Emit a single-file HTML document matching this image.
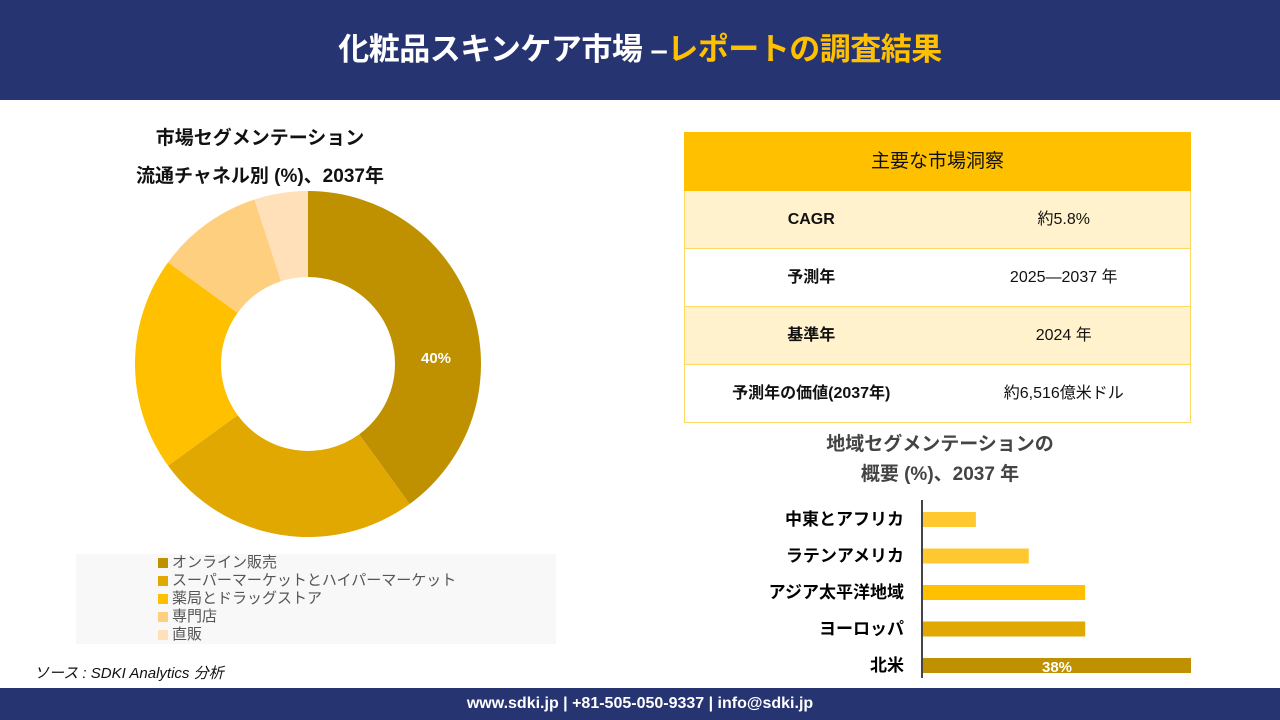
<!DOCTYPE html>
<html><head><meta charset="utf-8">
<style>
*{margin:0;padding:0;box-sizing:border-box}
body{width:1280px;height:720px;position:relative;background:#fff;font-family:"Liberation Sans","Noto Sans CJK JP",sans-serif;overflow:hidden;color:#111}
.abs{position:absolute}
#hdr{left:0;top:0;width:1280px;height:100px;background:#263472;}
#title{left:0;top:30px;width:1280px;text-align:center;font-size:31px;font-weight:bold;color:#fff;letter-spacing:-0.5px;line-height:40px}
#title span{color:#FFC000}
#ftr{left:0;top:688px;width:1280px;height:32px;background:#263472;color:#fff;font-size:16px;font-weight:bold;text-align:center;line-height:32px}
.ct{font-size:19px;font-weight:bold;text-align:center}
table{border-collapse:collapse;table-layout:fixed}
td{border-top:1px solid #FFD966;border-bottom:1px solid #FFD966;font-size:16px;text-align:center;height:58px;line-height:20px;vertical-align:middle;padding:0}
td.l{border-left:1px solid #FFD966}
td.r{border-right:1px solid #FFD966}
#legend{left:76px;top:554px;width:480px;height:90px;background:#f8f8f8;font-size:15px;color:#555;line-height:18px;padding-left:82px;padding-top:0}
.sw{display:inline-block;width:10px;height:10px;margin-right:4px;vertical-align:-1px}
</style></head><body>
<div id="hdr" class="abs"></div>
<div id="title" class="abs">化粧品スキンケア市場 –<span>レポートの調査結果</span></div>

<div class="abs ct" style="left:100px;top:120px;width:320px;line-height:38px">市場セグメンテーション<br>流通チャネル別 (%)、2037年</div>

<svg id="donut" class="abs" style="left:0;top:0" width="640" height="700"></svg>

<div id="legend" class="abs"></div>

<div class="abs" style="left:34px;top:662px;font-size:15px;font-style:italic">ソース : SDKI Analytics 分析</div>

<table class="abs" style="left:684px;top:132px;width:507px">
<tr><td colspan="2" class="l r" style="background:#FFC000;font-size:19px;border-color:#FFC000">主要な市場洞察</td></tr>
<tr style="background:#FFF2CC"><td class="l" style="font-weight:bold;width:50%">CAGR</td><td class="r">約5.8%</td></tr>
<tr><td class="l" style="font-weight:bold">予測年</td><td class="r">2025—2037 年</td></tr>
<tr style="background:#FFF2CC"><td class="l" style="font-weight:bold">基準年</td><td class="r">2024 年</td></tr>
<tr><td class="l" style="font-weight:bold">予測年の価値(2037年)</td><td class="r">約6,516億米ドル</td></tr>
</table>

<div class="abs ct" style="left:780px;top:430px;width:320px;line-height:30px;color:#444">地域セグメンテーションの<br>概要 (%)、2037 年</div>

<svg id="bars" class="abs" style="left:640px;top:490px" width="640" height="195"></svg>

<div id="ftr" class="abs">www.sdki.jp | +81-505-050-9337 | info@sdki.jp</div>

<script>
const channels=["オンライン販売","スーパーマーケットとハイパーマーケット","薬局とドラッグストア","専門店","直販"];
const channelValues=[40,25,20,10,5];
const channelColors=["#BF9000","#E0A800","#FFC000","#FFCF80","#FFE0B8"];
const regions=["中東とアフリカ","ラテンアメリカ","アジア太平洋地域","ヨーロッパ","北米"];
const regionValues=[7.5,15,23,23,38];
const regionColors=["#FFC830","#FFC830","#FFC000","#E0A800","#BF9000"];
const NS="http://www.w3.org/2000/svg";
const d=document.getElementById('donut');
const cx=308,cy=364,R=173,r=87;
const tot=channelValues.reduce((a,b)=>a+b,0);
let a0=0;
function pt(a,rad){return [cx+rad*Math.sin(a),cy-rad*Math.cos(a)];}
channelValues.forEach((v,i)=>{
 const a1=a0+v/tot*2*Math.PI;
 const lg=(a1-a0)>Math.PI?1:0;
 const p1=pt(a0,R),p2=pt(a1,R),p3=pt(a1,r),p4=pt(a0,r);
 const p=document.createElementNS(NS,'path');
 p.setAttribute('d',`M${p1}A${R},${R} 0 ${lg} 1 ${p2}L${p3}A${r},${r} 0 ${lg} 0 ${p4}Z`);
 p.setAttribute('fill',channelColors[i]);
 
 
 d.appendChild(p);
 if(i===0){const m=pt(Math.PI/2,(R+r)/2);const t=document.createElementNS(NS,'text');
  t.setAttribute('x',m[0]-2);t.setAttribute('y',m[1]-1);t.setAttribute('fill','#fff');t.setAttribute('font-size','15');t.setAttribute('font-weight','bold');t.setAttribute('text-anchor','middle');
  
  
  t.textContent=v+'%';d.appendChild(t);}
 a0=a1;
});
const lg=document.getElementById('legend');
channels.forEach((c,i)=>{const e=document.createElement('div');
 
 
 e.innerHTML=`<span class="sw" style="background:${channelColors[i]}"></span>${c}`;lg.appendChild(e);});
const b=document.getElementById('bars');
const x0=282,scale=268/38,bh=15,step=36.5,y0=22;
const ax=document.createElementNS(NS,'line');
ax.setAttribute('x1',x0);ax.setAttribute('x2',x0);ax.setAttribute('y1',10);ax.setAttribute('y2',188);ax.setAttribute('stroke','#444');ax.setAttribute('stroke-width','2');


b.appendChild(ax);
regions.forEach((rg,i)=>{
 const y=y0+i*step;
 const rc=document.createElementNS(NS,'rect');
 rc.setAttribute('x',x0+1);rc.setAttribute('y',y);rc.setAttribute('width',regionValues[i]*scale);rc.setAttribute('height',bh);rc.setAttribute('fill',regionColors[i]);
 
 
 b.appendChild(rc);
 const t=document.createElementNS(NS,'text');
 t.setAttribute('x',x0-18);t.setAttribute('y',y+13);t.setAttribute('text-anchor','end');t.setAttribute('font-size','17');t.setAttribute('font-weight','bold');
 
 
 t.textContent=rg;b.appendChild(t);
 if(i===regions.length-1){const v=document.createElementNS(NS,'text');
  v.setAttribute('x',x0+1+regionValues[i]*scale/2);v.setAttribute('y',y+14);v.setAttribute('text-anchor','middle');v.setAttribute('fill','#fff');v.setAttribute('font-size','15');v.setAttribute('font-weight','bold');
  
  
  v.textContent=regionValues[i]+'%';b.appendChild(v);}
});
</script>
</body></html>
